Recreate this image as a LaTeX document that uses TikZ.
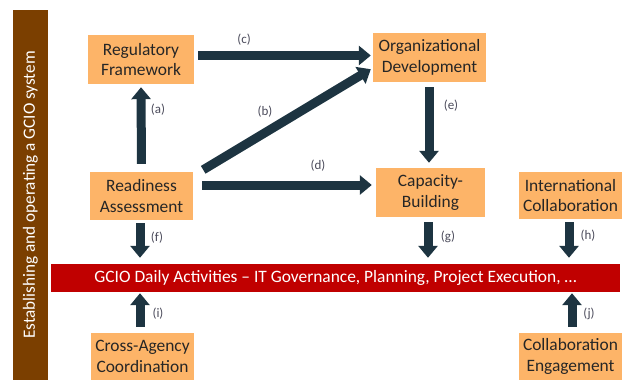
\documentclass[tikz,border=0pt]{standalone}
\usepackage{fontspec}
\setmainfont{Carlito}
\usetikzlibrary{arrows.meta,calc}
\definecolor{boxorange}{HTML}{FDB468}
\definecolor{barbrown}{HTML}{7B3F00}
\definecolor{barred}{HTML}{C00000}
\definecolor{arrowdark}{HTML}{1D3441}
\definecolor{labelgray}{HTML}{4A4A5A}
\definecolor{boxtext}{HTML}{262626}
\tikzset{
  stepbox/.style={fill=boxorange, draw=none, inner sep=0pt, align=center,
    text=boxtext, font=\fontsize{17.4}{20.5}\selectfont},
  bigarrow/.style={draw=arrowdark, line width=9pt,
    -{Triangle[length=12pt,width=19pt]}},
  lbl/.style={text=labelgray, font=\fontsize{13}{15}\selectfont, inner sep=0pt},
}
\begin{document}
\begin{tikzpicture}[x=1pt,y=-1pt]
\useasboundingbox (0,0) rectangle (629,380);
% side bar
\node[fill=barbrown, minimum width=370pt, minimum height=35pt, inner sep=0pt,
  rotate=90, text=white, font=\fontsize{17.2}{20}\selectfont] (side) at (30.5,195)
  {Establishing and operating a GCIO system};
% boxes
\node[stepbox, minimum width=106pt, minimum height=49pt] (reg) at (141,59.5) {Regulatory\\Framework};
\node[stepbox, minimum width=103pt, minimum height=48pt] (ready) at (141.5,196) {Readiness\\Assessment};
\node[stepbox, minimum width=113pt, minimum height=49pt] (org) at (429.5,57.5) {Organizational\\Development};
\node[stepbox, minimum width=109pt, minimum height=49pt] (cap) at (430.5,192.5) {Capacity-\\Building};
\node[stepbox, minimum width=103pt, minimum height=47pt] (intl) at (570.5,195.5) {International\\Collaboration};
\node[stepbox, minimum width=103pt, minimum height=47pt] (cross) at (142.5,356.5) {Cross-Agency\\Coordination};
\node[stepbox, minimum width=103pt, minimum height=47pt] (collab) at (570.5,356.5) {Collaboration\\Engagement};
% red bar
\node[fill=barred, minimum width=569pt, minimum height=28pt, inner sep=0pt,
  text=white, font=\fontsize{17.4}{20}\selectfont] (daily) at (335.5,278)
  {GCIO Daily Activities -- IT Governance, Planning, Project Execution, \dots};
% arrow end points
\coordinate (fs) at ($(ready.south)+(-1.5,3)$);
\coordinate (fe) at (fs |- daily.north);
\coordinate (gs) at ($(cap.south)+(-2.5,5)$);
\coordinate (ge) at (gs |- daily.north);
\coordinate (hs) at ($(intl.south)+(-1.5,3)$);
\coordinate (he) at (hs |- daily.north);
\coordinate (is) at ($(cross.north)+(-2.5,-6)$);
\coordinate (ie) at (is |- daily.south);
\coordinate (js) at ($(collab.north)+(1.5,-6)$);
\coordinate (je) at (js |- daily.south);
% arrows
\draw[bigarrow, shorten <=8pt, shorten >=3pt] (ready.north) -- (reg.south);
\draw[bigarrow] ($(reg.east)+(4,-4)$) -- ($(org.west)+(-2,-2)$);
\draw[bigarrow] ($(ready.north east)+(10,-2)$) -- ($(org.south west)+(-2,-13)$);
\draw[bigarrow] ($(ready.east)+(9,-11)$) -- ($(cap.west)+(-4,-7.5)$);
\draw[bigarrow, shorten <=5pt, shorten >=5pt] ($(org.south)+(-0.5,0)$) -- ($(cap.north)+(-1.5,0)$);
\draw[bigarrow, shorten >=6pt] (fs) -- (fe);
\draw[bigarrow, shorten >=6pt] (gs) -- (ge);
\draw[bigarrow, shorten >=6pt] (hs) -- (he);
\draw[bigarrow, shorten >=1pt] (is) -- (ie);
\draw[bigarrow, shorten >=1pt] (js) -- (je);
% labels
\node[lbl] (la) at (158,110) {(a)};
\node[lbl] (lb) at (265,112) {(b)};
\node[lbl] (lc) at (244,40) {(c)};
\node[lbl] (ld) at (318,166) {(d)};
\node[lbl] (le) at (451,106) {(e)};
\node[lbl] (lf) at (157,238) {(f)};
\node[lbl] (lg) at (448,237) {(g)};
\node[lbl] (lh) at (588,236) {(h)};
\node[lbl] (li) at (158,314) {(i)};
\node[lbl] (lj) at (589,314) {(j)};
\end{tikzpicture}
\end{document}
